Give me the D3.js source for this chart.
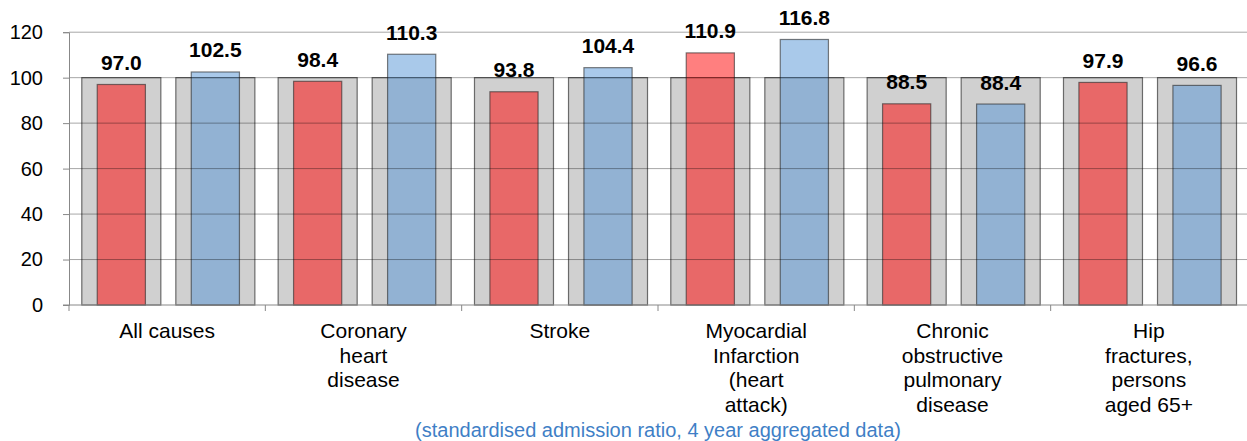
<!DOCTYPE html>
<html><head><meta charset="utf-8">
<script src="https://cdn.jsdelivr.net/npm/d3@7"></script>
<style>
html,body{margin:0;padding:0;background:#fff;}
svg{display:block;font-family:"Liberation Sans",Arial,sans-serif;}
</style></head>
<body>
<svg id="chart" width="1247" height="441"></svg>
<script>
const categories = [
  ["All causes"],
  ["Coronary","heart","disease"],
  ["Stroke"],
  ["Myocardial","Infarction","(heart","attack)"],
  ["Chronic","obstructive","pulmonary","disease"],
  ["Hip","fractures,","persons","aged 65+"]
];
const seriesKeys = ["red","blue"];
const redValues  = [97.0, 98.4, 93.8, 110.9, 88.5, 97.9];
const blueValues = [102.5, 110.3, 104.4, 116.8, 88.4, 96.6];
const referenceValue = [100, 100, 100, 100, 100, 100];
const yTicks = [0, 20, 40, 60, 80, 100, 120];
const caption = "(standardised admission ratio, 4 year aggregated data)";

const svg = d3.select("#chart");
const pLeft = 69, pRight = 1247, pTop = 32.2, pBottom = 305;
const catIds = categories.map((c,i)=>i);

const x0 = d3.scaleBand().domain(catIds).range([pLeft,pRight]).padding(0);
const x1 = d3.scaleBand().domain(seriesKeys).range([0,x0.bandwidth()])
  .paddingInner(0.16).paddingOuter(0.124).align(0.55);
const y = d3.scaleLinear().domain([0,120]).range([pBottom, pTop]);

const data = catIds.map(i => ({
  i, ref: referenceValue[i],
  vals: [{k:"red", v: redValues[i]}, {k:"blue", v: blueValues[i]}]
}));

const fills = {red: "rgba(255,0,0,0.5)", blue: "rgba(83,147,213,0.5)"};

// grey reference bars
const g = svg.append("g");
data.forEach(d => {
  seriesKeys.forEach(k => {
    g.append("rect")
      .attr("x", x0(d.i) + x1(k))
      .attr("y", y(d.ref))
      .attr("width", x1.bandwidth())
      .attr("height", y(0) - y(d.ref))
      .attr("fill", "#d0d0d0")
      .attr("stroke", "#6a6a6a")
      .attr("stroke-width", 1.2);
  });
});

// colored bars
const cw = x1.bandwidth() * 0.61;
data.forEach(d => {
  d.vals.forEach(s => {
    const cx = x0(d.i) + x1(s.k) + x1.bandwidth()/2;
    g.append("rect")
      .attr("x", cx - cw/2)
      .attr("y", y(s.v))
      .attr("width", cw)
      .attr("height", y(0) - y(s.v))
      .attr("fill", fills[s.k])
      .attr("stroke", "rgba(40,40,40,0.6)")
      .attr("stroke-width", 1.2);
  });
});

// gridlines on top
const grid = svg.append("g");
yTicks.filter(t=>t>0).forEach(t => {
  grid.append("line")
    .attr("x1", pLeft).attr("x2", pRight)
    .attr("y1", y(t)).attr("y2", y(t))
    .attr("stroke", "rgba(0,0,0,0.35)").attr("stroke-width", 1);
});

// y axis
const yAxis = svg.append("g").attr("transform", `translate(${pLeft},0)`)
  .call(d3.axisLeft(y).tickValues(yTicks).tickSize(6).tickPadding(20).tickFormat(d3.format("d")));
yAxis.select(".domain").attr("stroke", "#888");
yAxis.selectAll(".tick line").attr("stroke", "#888");
yAxis.selectAll(".tick text").attr("font-size", 20).attr("fill", "#000")
  .attr("font-family", "Liberation Sans, Arial, sans-serif");

// x axis line + boundary ticks
const xa = svg.append("g");
xa.append("line").attr("x1", pLeft-6).attr("x2", pRight).attr("y1", pBottom).attr("y2", pBottom)
  .attr("stroke", "#888").attr("stroke-width", 1);
catIds.forEach(i => {
  xa.append("line").attr("x1", x0(i)).attr("x2", x0(i)).attr("y1", pBottom).attr("y2", pBottom+6)
    .attr("stroke", "#888");
});

// category labels
catIds.forEach(i => {
  const t = xa.append("text")
    .attr("x", x0(i) + x0.bandwidth()/2)
    .attr("y", 338)
    .attr("text-anchor", "middle")
    .attr("font-size", 21)
    .attr("fill", "#000");
  categories[i].forEach((line, j) => {
    t.append("tspan").attr("x", x0(i) + x0.bandwidth()/2)
      .attr("dy", j === 0 ? 0 : 24.5).text(line);
  });
});

// value labels
data.forEach(d => {
  d.vals.forEach(s => {
    svg.append("text")
      .attr("x", x0(d.i) + x1(s.k) + x1.bandwidth()/2)
      .attr("y", y(s.v) - 14.5)
      .attr("text-anchor", "middle")
      .attr("font-size", 21)
      .attr("font-weight", "bold")
      .attr("fill", "#000")
      .text(s.v.toFixed(1));
  });
});

// caption
svg.append("text")
  .attr("x", (pLeft+pRight)/2)
  .attr("y", 437)
  .attr("text-anchor", "middle")
  .attr("font-size", 20)
  .attr("fill", "#3f7fc6")
  .text(caption);
</script>
</body></html>
